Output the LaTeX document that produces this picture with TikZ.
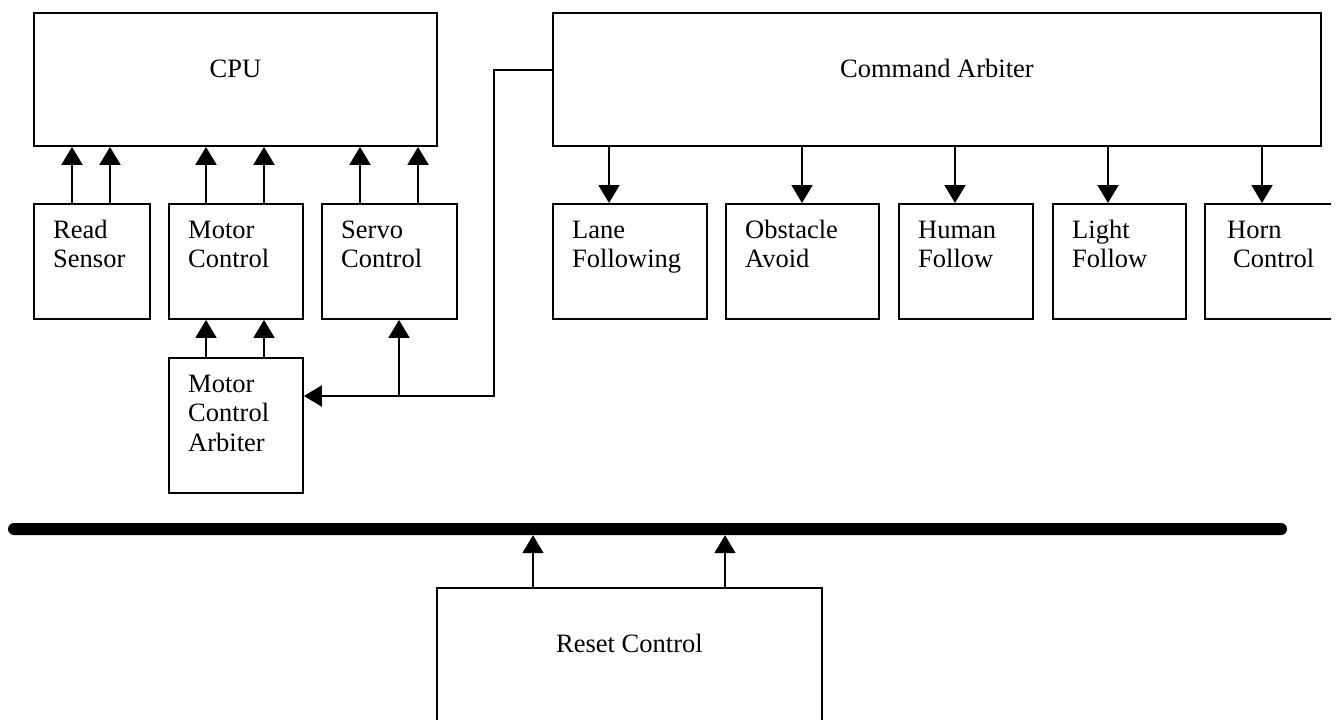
\documentclass[tikz,border=0pt]{standalone}
\usepackage{fontspec}
\setmainfont{Liberation Serif}
\usetikzlibrary{arrows.meta,calc}

\begin{document}
\begin{tikzpicture}[
	x=1pt, y=-1pt,
	font=\fontsize{26.5}{29.5}\selectfont,
	blk/.style = {draw, line width=1.9pt, anchor=north west, inner sep=0pt, minimum height=115pt},
	txt/.style = {anchor=base west, align=left, inner sep=0pt, xshift=20pt, yshift={-35pt-#1*29.5pt}},
	txt/.default = 1,
	ttl/.style = {anchor=base, inner sep=0pt, yshift=-65pt},
	arr/.style = {line width=1.9pt, -{Triangle[width=21pt,length=18pt]}},
	wire/.style = {line width=1.9pt},
	bus/.style = {fill, rounded corners=6pt, minimum width=1279pt, minimum height=12pt, inner sep=0pt}
	]
	\useasboundingbox (0,0) rectangle (1339,720);
	\clip (0,0) rectangle (1331,720);
	
	% Top row
	\node[blk, minimum width=403pt, minimum height=133pt, label={[ttl]north:CPU}] (cpu) at (33,12) {};
	\node[blk, minimum width=768pt, minimum height=133pt, label={[ttl]north:Command Arbiter}] (ca) at (552,12) {};
	
	% CPU side
	\node[blk, minimum width=116pt, label={[txt]north west:Read\\Sensor}] (rs) at (33,203) {};
	\node[blk, minimum width=134pt, label={[txt]north west:Motor\\Control}] (mc) at (168,203) {};
	\node[blk, minimum width=135pt, label={[txt]north west:Servo\\Control}] (sc) at (321,203) {};
	\node[blk, minimum width=134pt, minimum height=135pt, label={[txt=2]north west:Motor\\Control\\Arbiter}] (mca) at (168,357) {};
	
	% Behaviours
	\node[blk, minimum width=154pt, label={[txt]north west:Lane\\Following}] (lane) at (552,203) {};
	\node[blk, minimum width=153pt, label={[txt]north west:Obstacle\\Avoid}] (obst) at (725,203) {};
	\node[blk, minimum width=134pt, label={[txt]north west:Human\\Follow}] (human) at (898,203) {};
	\node[blk, minimum width=133pt, label={[txt]north west:Light\\Follow}] (light) at (1052,203) {};
	\node[blk, minimum width=134pt, label={[txt, xshift=3pt]north west:Horn\\\hspace*{6pt}Control}] (horn) at (1204,203) {};
	
	% Bus and reset
	\node[bus] (bus) at (647.5,529) {};
	\node[blk, minimum width=385pt, minimum height=180pt, label={[ttl]north:Reset Control}] (rst) at (436,587) {};
	
	% Into the CPU
	\foreach \n/\a/\b in {rs/39/77, mc/38/96, sc/39/97}{
		\draw[arr] ($(\n.north west)+(\a,0)$) coordinate (s) -- (s |- cpu.south);
		\draw[arr] ($(\n.north west)+(\b,0)$) coordinate (s) -- (s |- cpu.south);
	}
	\foreach \a in {38,96}
	\draw[arr] ($(mca.north west)+(\a,0)$) coordinate (s) -- (s |- mc.south);
	
	% Out of the arbiter
	\foreach \n/\a in {lane/57, obst/77, human/57, light/56, horn/58}
	\draw[arr] ($(\n.north west)+(\a,0)$) coordinate (t) (t |- ca.south) -- (t);
	
	% Arbiter to motor side
	\coordinate (elbow) at (494,396);
	\coordinate (tap) at (399,396);
	\draw[wire] ([yshift=9.5pt]ca.west) -| (elbow) -- (tap);
	\draw[arr] (tap) -- (tap -| mca.east);
	\draw[arr] (tap) -- (tap |- sc.south);
	
	% Reset onto the bus
	\foreach \a in {97,289}
	\draw[arr] ($(rst.north west)+(\a,0)$) coordinate (s) -- (s |- bus.south);
	
\end{tikzpicture}
\end{document}
